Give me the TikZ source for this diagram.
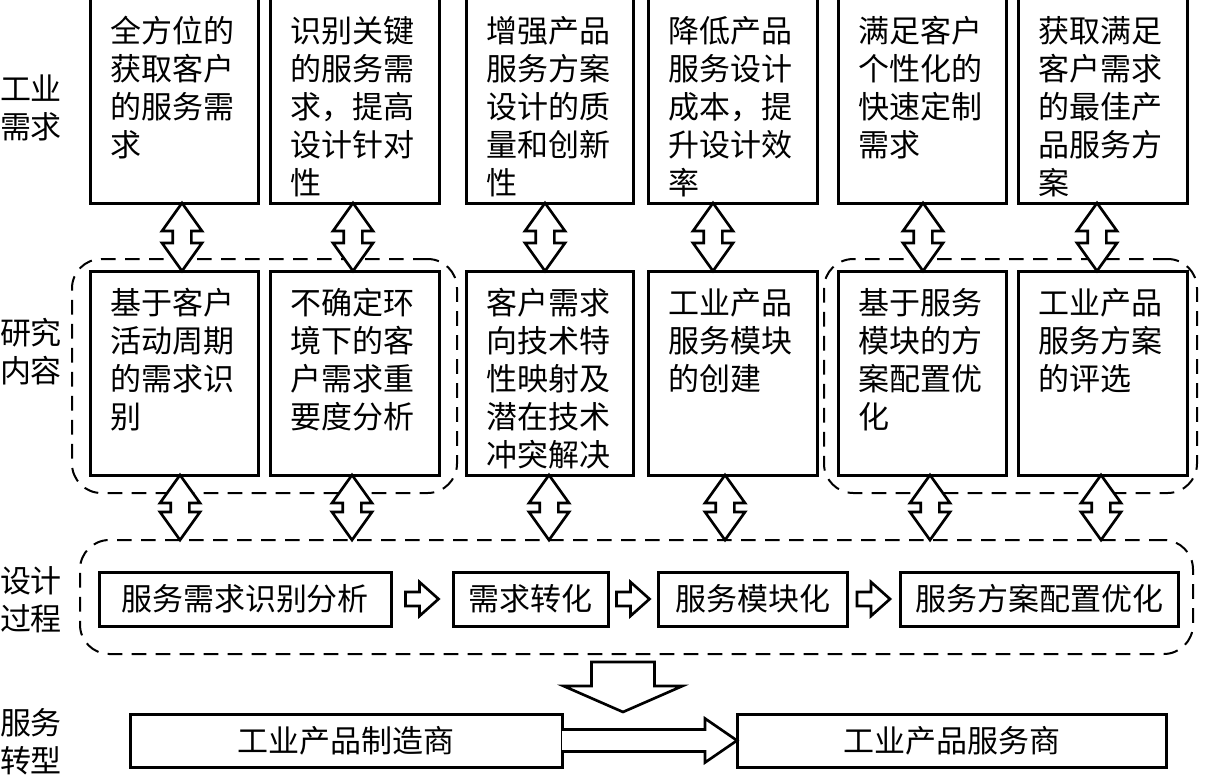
\documentclass[tikz,border=0pt]{standalone}
\usepackage{fontspec}
\setmainfont{Noto Sans CJK SC}
\usetikzlibrary{calc}
\newcommand\fs{\fontsize{23.25pt}{28.5pt}\selectfont}
\newcommand\tstrut{\rule{0pt}{21pt}}
\tikzset{
  sq/.style={draw, line width=2.25pt, inner sep=0pt, outer sep=0pt, font=\fs},
  grp/.style={draw, line width=1.5pt, dash pattern=on 11pt off 7pt, rounded corners=22pt, inner sep=0pt, outer sep=0pt},
  txt/.style={inner sep=0pt, outer sep=0pt, align=left, anchor=north west, font=\fs},
  arr/.style={draw, line width=2pt, fill=white, line join=miter},
}
\newcommand\bx[6]{\node[sq, minimum width={(#4-#3)*0.75pt}, minimum height={(#6-#5)*0.75pt}] (#1) at ({(#3+#4)/2},{(#5+#6)/2}) {#2};}
\newcommand\dbl[3]{\draw[arr] let \p1=($(#1)+(#3,0)$), \p2=(#2) in
  (\x1,\y1) -- (\x1-15pt,\y1-21pt) -- (\x1-7pt,\y1-21pt) -- (\x1-7pt,\y2+21pt) -- (\x1-15pt,\y2+21pt) -- (\x1,\y2)
  -- (\x1+15pt,\y2+21pt) -- (\x1+7pt,\y2+21pt) -- (\x1+7pt,\y1-21pt) -- (\x1+15pt,\y1-21pt) -- cycle;}
\newcommand\sar[2]{\draw[arr] let \p1=($(#1)!0.5!(#2)$) in
  (\x1-12.4pt,\y1+5.25pt) -- (\x1-1.9pt,\y1+5.25pt) -- (\x1-1.9pt,\y1+12.75pt) -- (\x1+12.4pt,\y1)
  -- (\x1-1.9pt,\y1-12.75pt) -- (\x1-1.9pt,\y1-5.25pt) -- (\x1-12.4pt,\y1-5.25pt) -- cycle;}
\begin{document}
\begin{tikzpicture}[x=0.75pt,y=-0.75pt]
\fill[white] (0,0) rectangle (1211,775);
\useasboundingbox (0,0) rectangle (1211,775);

% left labels
\node[txt] (l1) at (0,72) {\tstrut 工业\\需求};
\node[txt] (l2) at (0,316) {\tstrut 研究\\内容};
\node[txt] (l3) at (0,564) {\tstrut 设计\\过程};
\node[txt] (l4) at (0,706) {\tstrut 服务\\转型};

% dashed groups
\node[grp, minimum width={385*0.75pt}, minimum height={234*0.75pt}] (g1) at (264.5,376) {};
\node[grp, minimum width={373*0.75pt}, minimum height={234*0.75pt}] (g2) at (1010.5,376) {};
\node[grp, minimum width={1113*0.75pt}, minimum height={114*0.75pt}] (dp) at (636.5,597) {};

% top boxes
\bx{t1}{}{90}{258}{-4}{203}
\bx{t2}{}{270}{439}{-4}{203}
\bx{t3}{}{466}{633}{-4}{203}
\bx{t4}{}{648}{817}{-4}{203}
\bx{t5}{}{838}{1006}{-4}{203}
\bx{t6}{}{1018}{1187}{-4}{203}
\node[txt] (tt1) at ($(t1.north west)+(20,18)$) {\tstrut 全方位的\\获取客户\\的服务需\\求};
\node[txt] (tt2) at ($(t2.north west)+(20,18)$) {\tstrut 识别关键\\的服务需\\求，提高\\设计针对\\性};
\node[txt] (tt3) at ($(t3.north west)+(20,18)$) {\tstrut 增强产品\\服务方案\\设计的质\\量和创新\\性};
\node[txt] (tt4) at ($(t4.north west)+(20,18)$) {\tstrut 降低产品\\服务设计\\成本，提\\升设计效\\率};
\node[txt] (tt5) at ($(t5.north west)+(20,18)$) {\tstrut 满足客户\\个性化的\\快速定制\\需求};
\node[txt] (tt6) at ($(t6.north west)+(20,18)$) {\tstrut 获取满足\\客户需求\\的最佳产\\品服务方\\案};

% middle boxes
\bx{m1}{}{90}{258}{271}{475}
\bx{m2}{}{270}{439}{271}{475}
\bx{m3}{}{466}{633}{271}{475}
\bx{m4}{}{648}{817}{271}{475}
\bx{m5}{}{838}{1006}{271}{475}
\bx{m6}{}{1018}{1187}{271}{475}
\node[txt] (mt1) at ($(m1.north west)+(20,15)$) {\tstrut 基于客户\\活动周期\\的需求识\\别};
\node[txt] (mt2) at ($(m2.north west)+(20,15)$) {\tstrut 不确定环\\境下的客\\户需求重\\要度分析};
\node[txt] (mt3) at ($(m3.north west)+(20,15)$) {\tstrut 客户需求\\向技术特\\性映射及\\潜在技术\\冲突解决};
\node[txt] (mt4) at ($(m4.north west)+(20,15)$) {\tstrut 工业产品\\服务模块\\的创建};
\node[txt] (mt5) at ($(m5.north west)+(20,15)$) {\tstrut 基于服务\\模块的方\\案配置优\\化};
\node[txt] (mt6) at ($(m6.north west)+(20,15)$) {\tstrut 工业产品\\服务方案\\的评选};

% design process boxes
\bx{d1}{服务需求识别分析}{99}{391}{572}{626}
\bx{d2}{需求转化}{453}{608}{572}{626}
\bx{d3}{服务模块化}{658}{847}{572}{626}
\bx{d4}{服务方案配置优化}{900}{1178}{572}{626}

% bottom boxes
\bx{b1}{工业产品制造商}{130}{562}{714}{767}
\bx{b2}{工业产品服务商}{737}{1166}{714}{767}

% double arrows top -> middle
\dbl{t1.south}{m1.north}{8}
\dbl{t2.south}{m2.north}{-1.5}
\dbl{t3.south}{m3.north}{-4.5}
\dbl{t4.south}{m4.north}{-19.5}
\dbl{t5.south}{m5.north}{1}
\dbl{t6.south}{m6.north}{-5.5}
% double arrows middle -> design process
\dbl{m1.south}{dp.north}{6}
\dbl{m2.south}{dp.north}{-2.5}
\dbl{m3.south}{dp.north}{-0.5}
\dbl{m4.south}{dp.north}{-7.5}
\dbl{m5.south}{dp.north}{8}
\dbl{m6.south}{dp.north}{-1.5}

% small arrows
\sar{d1.east}{d2.west}
\sar{d2.east}{d3.west}
\sar{d3.east}{d4.west}

% big down arrow
\draw[arr] let \p1=($(dp.south)+(-13.5,8)$) in
  (\x1-23.6pt,\y1) -- (\x1+23.6pt,\y1) -- (\x1+23.6pt,\y1-18pt) -- (\x1+44.6pt,\y1-18pt)
  -- (\x1,\y1-37.5pt) -- (\x1-44.6pt,\y1-18pt) -- (\x1-23.6pt,\y1-18pt) -- cycle;

% horizontal arrow
\draw[arr] let \p1=(b1.east), \p2=(b2.west) in
  (\x1,\y1+8.25pt) -- (\x2-24pt,\y1+8.25pt) -- (\x2-24pt,\y1+16.5pt) -- (\x2,\y1)
  -- (\x2-24pt,\y1-16.5pt) -- (\x2-24pt,\y1-8.25pt) -- (\x1,\y1-8.25pt);
\end{tikzpicture}
\end{document}
